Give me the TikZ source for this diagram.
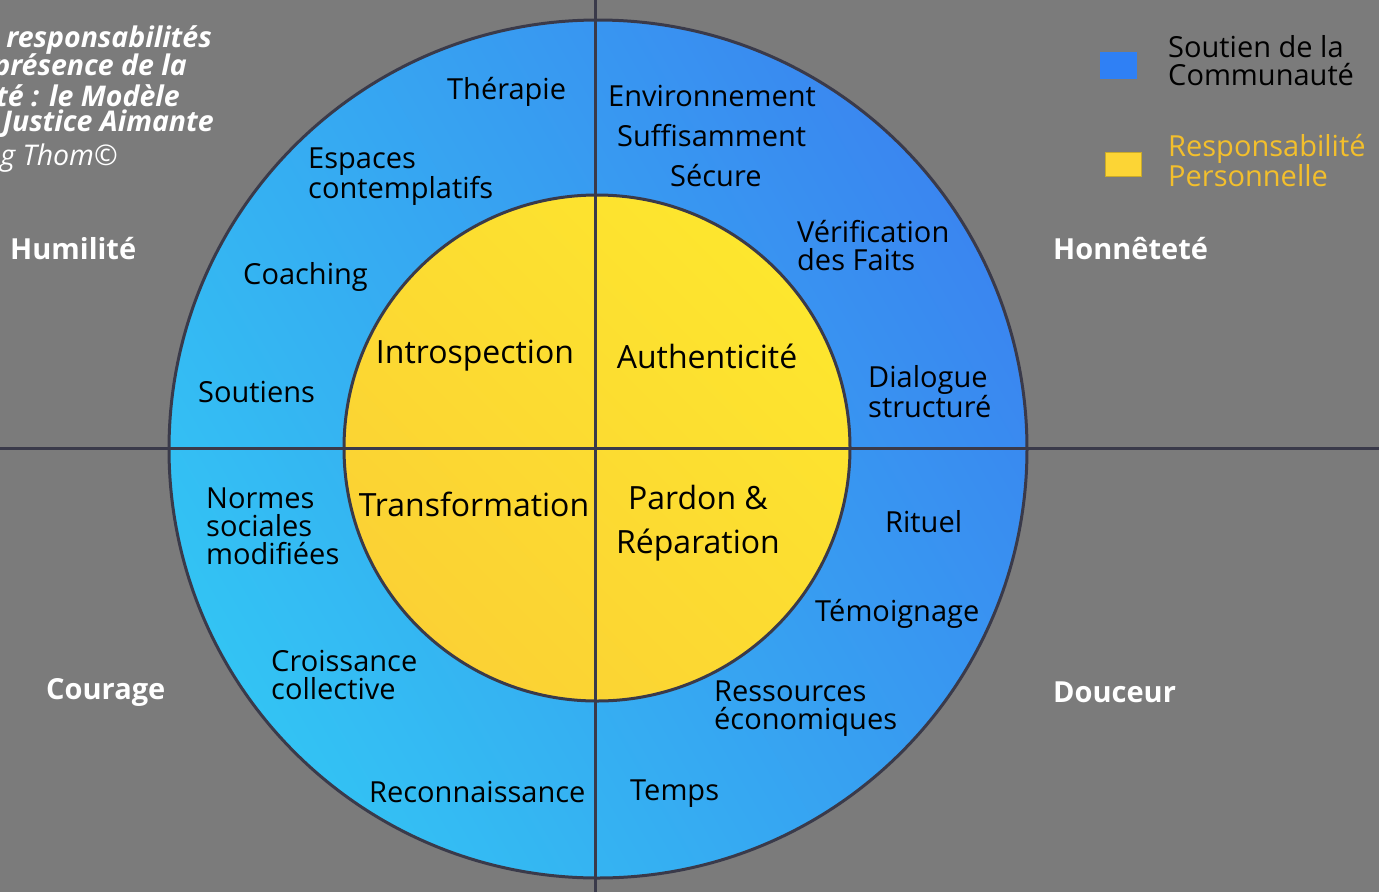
\documentclass[tikz,border=0pt]{standalone}
\usepackage{fontspec}
\setmainfont{Open Sans}
\definecolor{bg}{HTML}{7B7B7B}
\definecolor{ln}{HTML}{3A3A4A}
\definecolor{bluedark}{HTML}{3A86F0}
\definecolor{bluemid}{HTML}{36AEF1}
\definecolor{bluelight}{HTML}{33C3F3}
\definecolor{yel}{HTML}{FBD134}
\definecolor{yelbright}{HTML}{FDE62E}
\definecolor{legblue}{HTML}{2F80F5}
\definecolor{legyel}{HTML}{FCD535}
\definecolor{legtext}{HTML}{F3BF2C}
\begin{document}
\begin{tikzpicture}[x=1pt,y=-1pt,
  lbl/.style={inner sep=0pt,align=left,font=\fontsize{29}{28}\selectfont,text=black},
  big/.style={inner sep=0pt,align=center,font=\fontsize{32}{44}\selectfont,text=black},
  virtue/.style={inner sep=0pt,font=\fontsize{29}{28}\selectfont\bfseries,text=white},
  ttl/.style={inner sep=0pt,font=\fontsize{28.5}{28}\selectfont\bfseries\itshape,text=white},
  legtxt/.style={inner sep=0pt,align=left,font=\fontsize{29}{28}\selectfont},
  cross/.style={draw=ln,line width=3pt}]
\useasboundingbox (0,0) rectangle (1379,892);
\clip (0,0) rectangle (1379,892);
\fill[bg] (0,0) rectangle (1379,892);
% outer blue disc
\shade[top color=bluedark,middle color=bluemid,bottom color=bluelight,shading angle=-60] (598,449) circle (429);
\draw[ln,line width=3pt] (598,449) circle (429);
% inner yellow disc
\shade[top color=yelbright,bottom color=yel,shading angle=-45] (597,448) circle (253);
\draw[ln,line width=3pt] (597,448) circle (253);
% cross
\coordinate (vt) at (595,0);
\coordinate (vb) at (595,892);
\coordinate (hl) at (0,448);
\coordinate (hr) at (1379,448);
\draw[cross] (vt) -- (vb);
\draw[cross] (hl) -- (hr);
% inner labels
\node[big] (intro) at (475,356) {Introspection};
\node[big] (auth) at (707,356) {Authenticité};
\node[big] (trans) at (474,504) {Transformation};
\node[big] (pardon) at (698,523) {Pardon \&\\Réparation};
% outer ring labels
\node[lbl,anchor=west] (ther) at (447,92) {Thérapie};
\node[lbl,anchor=west] (env) at (608,96) {Environnement};
\node[lbl,anchor=west] (suff) at (617,136) {Suffisamment};
\node[lbl,anchor=west] (sec) at (670,176) {Sécure};
\node[lbl,anchor=west] (esp) at (308,177) {Espaces\\contemplatifs};
\node[lbl,anchor=west] (verif) at (797,246) {Vérification\\des Faits};
\node[lbl,anchor=west] (coach) at (243,277) {Coaching};
\node[lbl,anchor=west] (sout) at (198,392) {Soutiens};
\node[lbl,anchor=west] (dial) at (868,392) {Dialogue\\structuré};
\node[lbl,anchor=west] (norm) at (206,526) {Normes\\sociales\\modifiées};
\node[lbl,anchor=west] (rit) at (885,522) {Rituel};
\node[lbl,anchor=west] (temo) at (815,614) {Témoignage};
\node[lbl,anchor=west] (crois) at (271,675) {Croissance\\collective};
\node[lbl,anchor=west] (ress) at (714,709) {Ressources\\économiques};
\node[lbl,anchor=west] (reco) at (369,792) {Reconnaissance};
\node[lbl,anchor=west] (temps) at (630,794) {Temps};
% virtues
\node[virtue,anchor=west] (hum) at (10,249) {Humilité};
\node[virtue,anchor=west] (hon) at (1053,249) {Honnêteté};
\node[virtue,anchor=west] (cou) at (46,692) {Courage};
\node[virtue,anchor=west] (dou) at (1053,692) {Douceur};
% title (cut by the left edge)
\node[ttl,anchor=east] (t1) at (212,40) {responsabilités};
\node[ttl,anchor=east] (t2) at (187,68) {présence de la};
\node[ttl,anchor=east] (t3) at (180,96) {té : le Modèle};
\node[ttl,anchor=east] (t4) at (214,124) {Justice Aimante};
\node[inner sep=0pt,anchor=east,text=white,font=\fontsize{28.5}{28}\selectfont\itshape] (t5) at (118,158) {g Thom©};
% legend
\fill[legblue] (1100,52) rectangle (1137,79);
\fill[legyel,draw=legyel!80!black,line width=0.8pt] (1105,152) rectangle (1141,176);
\node[legtxt,anchor=west,text=black] (leg1) at (1168,61) {Soutien de la\\Communauté};
\node[legtxt,anchor=west,text=legtext] (leg2) at (1168,161) {Responsabilité\\Personnelle};
\end{tikzpicture}
\end{document}
